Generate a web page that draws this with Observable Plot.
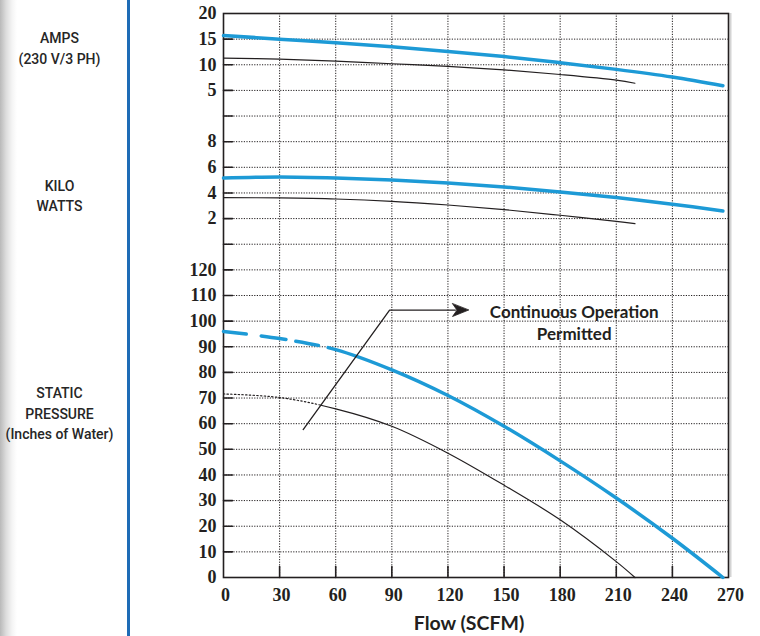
<!DOCTYPE html>
<html><head><meta charset="utf-8">
<script src="https://cdn.jsdelivr.net/npm/d3@7"></script>
<script src="https://cdn.jsdelivr.net/npm/@observablehq/plot@0.6"></script>
<style>
html,body{margin:0;padding:0;background:#fff;}
#wrap{position:relative;width:760px;height:636px;overflow:hidden;background:linear-gradient(to right,#b9b9b9 0px,#dcdcdc 6px,#f4f4f4 12px,#fff 17px);}
#bar{position:absolute;left:127px;top:0;width:2.5px;height:636px;background:#1e6cb6;}
#chart{position:absolute;left:0;top:0;}
</style></head><body><div id="wrap"><div id="bar"></div><div id="chart"></div></div>
<script>
// ---- data ----
const xTicks = [0, 30, 60, 90, 120, 150, 180, 210, 240, 270];
const yTicks = [0,10,20,30,40,50,60,70,80,90,100,110,120,130,140,150,160,170,180,190,200,210,220];
const yTickLabels = ["0","10","20","30","40","50","60","70","80","90","100","110","120","","2","4","6","8","","5","10","15","20"];

// Amps (230 V/3 PH)
const ampFlowHi = [0, 30, 60, 90, 120, 150, 180, 210, 240, 267];
const ampsHi    = [15.7, 15.0, 14.3, 13.5, 12.6, 11.6, 10.4, 9.1, 7.6, 5.9];
const ampFlowLo = [0, 30, 60, 90, 120, 150, 180, 210, 220];
const ampsLo    = [11.3, 11.1, 10.7, 10.2, 9.7, 9.0, 8.1, 7.0, 6.4];

// Kilowatts
const kwHi = [5.17, 5.25, 5.17, 5.01, 4.78, 4.47, 4.08, 3.64, 3.12, 2.6];
const kwLo = [3.64, 3.61, 3.53, 3.35, 3.06, 2.7, 2.26, 1.79, 1.6];

// Static pressure (inches of water)
const pFlowHi  = [0, 30, 60, 90, 120, 150, 180, 210, 240, 267];
const pressHi  = [96, 93.2, 88.9, 81, 71, 59, 45.5, 31, 15.3, 0];
const pFlowLo  = [0, 30, 60, 90, 120, 150, 180, 210, 220];
const pressLo  = [71.6, 70.2, 65.8, 59, 48.5, 36, 22.5, 6.2, 0];

// annotation leader (flow, pressure)
const leaderFlow = [42.6, 88.8, 124];
const leaderPress = [57.7, 104.3, 104.3];
const arrowTip = {flow: 131, press: 104.3};
const noteText = "Continuous Operation\nPermitted";

// ---- panel mapping onto one stacked axis ----
const ampsToU = a => 180 + a * 2;
const kwToU = k => 130 + k * 5;
const yLabel = new Map(yTicks.map((t, i) => [t, yTickLabels[i]]));

const ser = (fx, fy, map = v => v) => fx.map((f, i) => ({flow: f, u: map(fy[i])}));
const ampsHiD = ser(ampFlowHi, ampsHi, ampsToU);
const ampsLoD = ser(ampFlowLo, ampsLo, ampsToU);
const kwHiD = ser(ampFlowHi, kwHi, kwToU);
const kwLoD = ser(ampFlowLo, kwLo, kwToU);
const pHiD = ser(pFlowHi, pressHi);
const pLoD = ser(pFlowLo, pressLo);
const leader = leaderFlow.map((f, i) => ({flow: f, u: leaderPress[i]}));

const BLUE = "#1d9ad6", INK = "#231f20";
const gridY = yTicks.slice(1, -1);
const gridX = xTicks.slice(1, -1);
const tickShape = {draw(ctx, l) { ctx.moveTo(0, 0); ctx.lineTo(0, -l); }};
const stealth = {draw(ctx, l) { const w = l * 0.4; ctx.moveTo(0, -l); ctx.lineTo(w, 0); ctx.lineTo(0, -l * 0.28); ctx.lineTo(-w, 0); ctx.closePath(); }};
// dashed start of the blue curve, dotted start of the black curve, then solid
const blueDash = "23,15,25,10,23,10,3000";
const blackDot = Array(26).fill("1.4,2.3").join(",") + ",3000";
const serif = "Liberation Serif, Times New Roman, serif";
const sans = "Lato, Liberation Sans, sans-serif";
const narrow = "Roboto, sans-serif";

const plot = Plot.plot({
  width: 760, height: 636,
  marginLeft: 223, marginRight: 32, marginTop: 13, marginBottom: 59,
  style: {background: "transparent", overflow: "visible"},
  x: {domain: [0, 270]},
  y: {domain: [0, 220]},
  marks: [
    Plot.ruleY(gridY, {stroke: INK, strokeWidth: 1, strokeDasharray: "1.2,1.4"}),
    Plot.ruleX(gridX, {stroke: INK, strokeWidth: 1, strokeDasharray: "1.2,1.4"}),
    Plot.vector(gridY, {y: d => d, frameAnchor: "left", length: 9, rotate: 90, anchor: "start", shape: tickShape, stroke: INK, strokeWidth: 1.6}),
    Plot.vector(gridX, {x: d => d, frameAnchor: "bottom", length: 11, rotate: 0, anchor: "start", shape: tickShape, stroke: INK, strokeWidth: 1.6}),
    Plot.ruleX([270], {dx: 2, stroke: "#d4d4d4", strokeWidth: 2}),
    Plot.frame({stroke: INK, strokeWidth: 1.6}),
    Plot.axisY(yTicks, {tickSize: 0, tickPadding: 7, tickFormat: d => yLabel.get(d), label: null,
      fontFamily: serif, fontWeight: "bold", fontSize: 18, fill: INK}),
    Plot.axisX(xTicks, {tickSize: 0, tickPadding: 11, dx: 2, label: null,
      fontFamily: serif, fontWeight: "bold", fontSize: 18, fill: INK}),
    // amps
    Plot.line(ampsLoD, {x: "flow", y: "u", stroke: INK, strokeWidth: 1.2, curve: "catmull-rom"}),
    Plot.line(ampsHiD, {x: "flow", y: "u", stroke: BLUE, strokeWidth: 3.5, curve: "catmull-rom"}),
    // kW
    Plot.line(kwLoD, {x: "flow", y: "u", stroke: INK, strokeWidth: 1.2, curve: "catmull-rom"}),
    Plot.line(kwHiD, {x: "flow", y: "u", stroke: BLUE, strokeWidth: 3.5, curve: "catmull-rom"}),
    // pressure
    Plot.line(pLoD, {x: "flow", y: "u", stroke: INK, strokeWidth: 1.2, strokeDasharray: blackDot, curve: "catmull-rom"}),
    Plot.line(pHiD, {x: "flow", y: "u", stroke: BLUE, strokeWidth: 3.5, strokeDasharray: blueDash, curve: "catmull-rom"}),
    // annotation
    Plot.line(leader, {x: "flow", y: "u", stroke: INK, strokeWidth: 1.3}),
    Plot.vector([arrowTip], {x: "flow", y: "press", length: 16, rotate: 90, anchor: "end", shape: stealth, fill: INK, stroke: INK, strokeWidth: 0.8}),
    Plot.text([noteText], {x: 187.5, y: 99.8, text: d => d, fontFamily: sans, fontWeight: "bold", fontSize: 17, lineHeight: 1.35, fill: INK}),
    // axis title
    Plot.text(["Flow (SCFM)"], {frameAnchor: "bottom", dy: 52, dx: -7, text: d => d, fontFamily: sans, fontWeight: "bold", fontSize: 19.5, fill: INK}),
    // panel labels
    Plot.text(["AMPS\n(230 V/3 PH)"], {frameAnchor: "left", y: 207.1, dx: -164, text: d => d, textAnchor: "middle", fontFamily: narrow, fontWeight: 500, fontSize: 14, lineHeight: 1.5, fill: "#262626"}),
    Plot.text(["KILO\nWATTS"], {frameAnchor: "left", y: 149.3, dx: -164, text: d => d, textAnchor: "middle", fontFamily: narrow, fontWeight: 500, fontSize: 14, lineHeight: 1.42, fill: "#262626"}),
    Plot.text(["STATIC\nPRESSURE\n(Inches of Water)"], {frameAnchor: "left", y: 64.5, dx: -164, text: d => d, textAnchor: "middle", fontFamily: narrow, fontWeight: 500, fontSize: 14, lineHeight: 1.45, fill: "#262626"})
  ]
});
document.getElementById("chart").appendChild(plot);
</script>
</body></html>
